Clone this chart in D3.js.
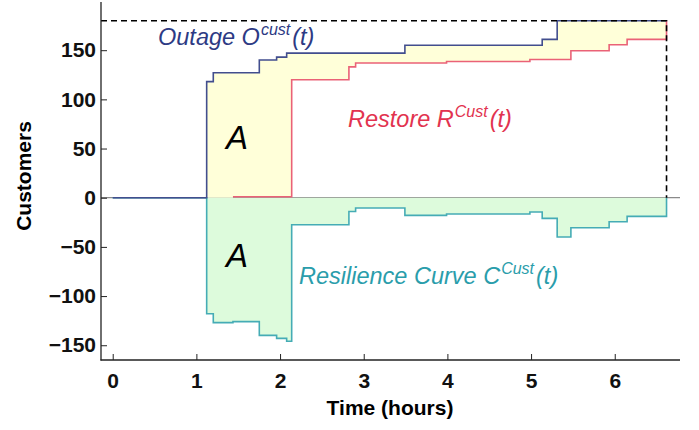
<!DOCTYPE html>
<html>
<head>
<meta charset="utf-8">
<script src="https://cdn.jsdelivr.net/npm/d3@7"></script>
<style>
  body { margin: 0; background: #fff; }
  #chart { width: 699px; height: 430px; }
  text { font-family: "Liberation Sans", Arial, sans-serif; }
</style>
</head>
<body>
<div id="chart"></div>
<script>
// step data (time in hours, customers)
var outageT = [0, 1.123, 1.202, 1.752, 1.959, 2.079, 3.492, 5.133, 5.312, 6.619];
var outageV = [0, 118, 127, 140, 143, 147, 155, 161, 180, 180];

var restoreT = [1.437, 2.139, 2.823, 2.903, 3.990, 4.986, 5.476, 5.933, 6.148, 6.619];
var restoreV = [1, 120, 133, 137, 138.5, 140.5, 149.5, 155.5, 161, 180];

var resilT = [0, 1.123, 1.202, 1.437, 1.752, 1.959, 2.079, 2.139, 2.823, 2.903, 3.492, 3.990, 4.986, 5.133, 5.312, 5.476, 5.933, 6.148, 6.619];
var resilV = [0, -118, -127, -126, -140, -143, -146, -27.5, -14, -10.5, -18, -16.5, -14.5, -21, -40, -30.5, -24.5, -19, 0];

var maxOut = 180;
var endT = 6.619;

var xTicks = [0, 1, 2, 3, 4, 5, 6];
var yTicks = [-150, -100, -50, 0, 50, 100, 150];

var ResilienceChart = function(container){
    var public = this;
    var svg, x, y;

    function _constructor(){
        initGraphics();
    }

    function pts(ts, vs){
        var out = [];
        for(var i=0; i<ts.length; i++){ out.push({t: ts[i], v: vs[i]}); }
        return out;
    }

    // value of a step series at time t (0 before its first point)
    function stepAt(ts, vs, t){
        var v = 0;
        for(var i=0; i<ts.length; i++){ if(ts[i] <= t) v = vs[i]; }
        return v;
    }

    function initGraphics(){
        svg = d3.select(container).append('svg').attr('width', 699).attr('height', 430);

        x = d3.scaleLinear().domain([-0.14, 6.78]).range([101, 680]);
        y = d3.scaleLinear().domain([-165, 199]).range([360, 2]);

        var outage = pts(outageT, outageV);
        var restore = pts(restoreT, restoreV);
        var resil = pts(resilT, resilV);

        // band between outage and restore
        var bandT = outageT.concat(restoreT).filter(function(t){ return t >= outageT[1]; });
        bandT = Array.from(new Set(bandT)).sort(function(a,b){ return a-b; });
        var band = bandT.map(function(t){
            return {t: t, hi: stepAt(outageT, outageV, t), lo: stepAt(restoreT, restoreV, t)};
        });

        var bandArea = d3.area().curve(d3.curveStepAfter)
            .x(function(d){ return x(d.t); })
            .y0(function(d){ return y(d.lo); })
            .y1(function(d){ return y(d.hi); });

        var resilArea = d3.area().curve(d3.curveStepAfter)
            .x(function(d){ return x(d.t); })
            .y0(y(0))
            .y1(function(d){ return y(d.v); });

        var line = d3.line().curve(d3.curveStepAfter)
            .x(function(d){ return x(d.t); })
            .y(function(d){ return y(d.v); });

        // zero line
        svg.append('line').attr('x1', 101).attr('x2', 680).attr('y1', y(0)).attr('y2', y(0))
            .attr('stroke', '#8a8a8a').attr('stroke-width', 1.2);

        svg.append('path').datum(band).attr('fill', '#ffffd9').attr('d', bandArea);
        svg.append('path').datum(resil).attr('fill', '#ddfbdc').attr('d', resilArea);

        svg.append('path').datum(resil).attr('fill', 'none').attr('stroke', '#45acb5')
            .attr('stroke-width', 1.6).attr('d', line);
        svg.append('path').datum(restore).attr('fill', 'none').attr('stroke', '#ea6277')
            .attr('stroke-width', 1.6).attr('d', line);
        svg.append('path').datum(outage).attr('fill', 'none').attr('stroke', '#424e8e')
            .attr('stroke-width', 1.6).attr('d', line);

        // dashed max outage marker
        svg.append('path')
            .attr('d', 'M' + x.range()[0] + ',' + y(maxOut) + 'H' + x(endT) + 'V' + y(0))
            .attr('fill', 'none').attr('stroke', '#000').attr('stroke-width', 1.6)
            .attr('stroke-dasharray', '6,4');

        // axes, ticks pointing inward
        var gy = svg.append('g').attr('transform', 'translate(101,0)');
        gy.call(d3.axisLeft(y).tickValues(d3.range(-160, 200, 10)).tickSize(-3).tickFormat(''));
        gy.call(d3.axisLeft(y).tickValues(yTicks).tickSize(-6).tickPadding(5)
            .tickFormat(function(d){ return d < 0 ? '\u2212' + Math.abs(d) : d; }));
        gy.selectAll('.domain').remove();

        var gx = svg.append('g').attr('transform', 'translate(0,360)');
        gx.call(d3.axisBottom(x).tickValues(d3.range(0, 34).map(function(i){ return i*0.2; })).tickSize(-3).tickFormat(''));
        gx.call(d3.axisBottom(x).tickValues(xTicks).tickSize(-6).tickPadding(13).tickFormat(d3.format('d')));
        gx.selectAll('.domain').remove();

        svg.selectAll('.tick line').attr('stroke', '#222').attr('stroke-width', 1);
        svg.selectAll('.tick text').attr('font-size', 21).attr('font-weight', 'bold')
            .attr('fill', '#111').attr('font-family', '"Liberation Sans", Arial, sans-serif');

        svg.append('line').attr('x1', 101).attr('x2', 101).attr('y1', 2).attr('y2', 360.5)
            .attr('stroke', '#222').attr('stroke-width', 1.3);
        svg.append('line').attr('x1', 100.5).attr('x2', 680).attr('y1', 360).attr('y2', 360)
            .attr('stroke', '#222').attr('stroke-width', 1.3);

        // axis titles
        svg.append('text').attr('x', 390).attr('y', 415).attr('text-anchor', 'middle')
            .attr('font-size', 21).attr('font-weight', 'bold').text('Time (hours)');
        svg.append('text').attr('transform', 'translate(31,176) rotate(-90)').attr('text-anchor', 'middle')
            .attr('font-size', 21).attr('font-weight', 'bold').text('Customers');

        // annotations
        label(158, 45, '#2d3a84', 'Outage O', 'cust');
        label(348, 127, '#e2334f', 'Restore R', 'Cust');
        label(299, 284, '#2a9dab', 'Resilience Curve C', 'Cust');

        svg.append('text').attr('x', 237).attr('y', 149).attr('text-anchor', 'middle')
            .attr('font-size', 33).attr('font-style', 'italic').attr('fill', '#000').text('A');
        svg.append('text').attr('x', 237).attr('y', 267).attr('text-anchor', 'middle')
            .attr('font-size', 33).attr('font-style', 'italic').attr('fill', '#000').text('A');
    }

    function label(lx, ly, col, main, sup){
        var t = svg.append('text').attr('x', lx).attr('y', ly).attr('fill', col)
            .attr('font-size', 23.5).attr('font-style', 'italic');
        t.append('tspan').text(main);
        t.append('tspan').attr('dx', 1).attr('dy', -10).attr('font-size', 16).text(sup);
        t.append('tspan').attr('dx', 2).attr('dy', 10).text('(t)');
    }

    _constructor();
    return public;
};

new ResilienceChart('#chart');
</script>
</body>
</html>
